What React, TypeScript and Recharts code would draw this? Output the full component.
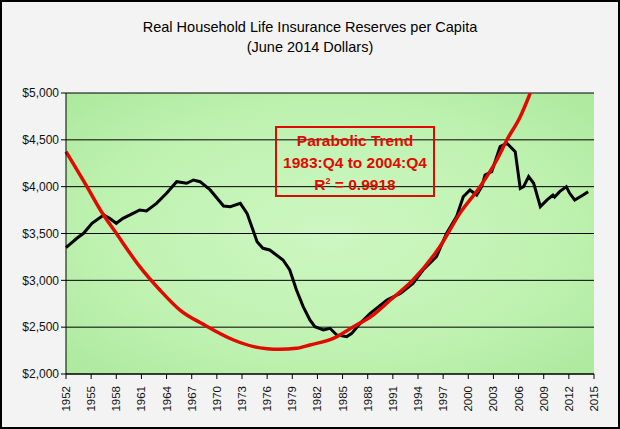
import { CartesianGrid, ComposedChart, Line, XAxis, YAxis } from 'recharts';

// Real household life insurance reserves per capita, June 2014 dollars
const reserveYears = [
  1952.0, 1953.3, 1954.1, 1955.1, 1956.5, 1957.2, 1958.0, 1958.8, 1960.0, 1960.8,
  1961.6, 1962.8, 1964.0, 1965.2, 1966.4, 1967.2, 1968.0, 1969.2, 1970.8, 1971.6,
  1972.8, 1973.6, 1974.8, 1975.5, 1976.3, 1977.9, 1978.7, 1979.5, 1980.3, 1981.1,
  1981.7, 1982.7, 1983.5, 1984.3, 1985.5, 1986.1, 1987.1, 1988.3, 1990.3, 1991.9,
  1993.4, 1994.6, 1996.2, 1997.4, 1998.6, 1999.4, 2000.2, 2001.0, 2001.6, 2002.0,
  2002.8, 2003.8, 2004.6, 2005.6, 2006.2, 2006.6, 2007.2, 2007.8, 2008.6, 2009.4,
  2010.1, 2010.3, 2010.9, 2011.7, 2012.1, 2012.7, 2013.7, 2014.3,
];
const reserveValues = [
  3350, 3449, 3502, 3609, 3698, 3662, 3609, 3662, 3715, 3751,
  3740, 3822, 3929, 4053, 4036, 4071, 4053, 3965, 3794, 3787,
  3822, 3715, 3413, 3342, 3324, 3217, 3110, 2897, 2719, 2577,
  2505, 2470, 2488, 2417, 2399, 2434, 2541, 2648, 2790, 2861,
  2968, 3110, 3252, 3502, 3680, 3893, 3965, 3911, 4000, 4125,
  4160, 4427, 4463, 4374, 3982, 4000, 4107, 4036, 3787, 3858,
  3911, 3890, 3947, 4000, 3929, 3858, 3911, 3947,
];

// Parabolic trend line
const trendYears = [
  1952.0, 1954.5, 1956.1, 1958.0, 1960.8, 1963.2, 1965.6, 1968.4, 1972.0, 1974.4,
  1976.0, 1977.5, 1979.5, 1981.1, 1983.9, 1986.3, 1988.5, 1990.7, 1993.4, 1996.6,
  1999.0, 2001.4, 2003.4, 2004.6, 2006.2, 2007.4,
];
const trendValues = [
  4374, 4000, 3751, 3502, 3146, 2897, 2683, 2530, 2363, 2292,
  2270, 2263, 2274, 2310, 2381, 2505, 2620, 2790, 3003, 3359,
  3715, 4000, 4285, 4498, 4747, 5000,
];

const yearTicks = [
  1952, 1955, 1958, 1961, 1964, 1967, 1970, 1973, 1976, 1979, 1982,
  1985, 1988, 1991, 1994, 1997, 2000, 2003, 2006, 2009, 2012, 2015,
];
const dollarTicks = [2000, 2500, 3000, 3500, 4000, 4500, 5000];

const titleLines = ['Real Household Life Insurance Reserves per Capita', '(June 2014 Dollars)'];
const noteLines = ['Parabolic Trend', '1983:Q4 to 2004:Q4'];
const rSquared = '0.9918';

const reserveData = reserveYears.map((year, i) => ({ year, value: reserveValues[i] }));
const trendData = trendYears.map((year, i) => ({ year, value: trendValues[i] }));

const FONT = '"Liberation Sans", Arial, sans-serif';
const RED = '#e00a00';

const YearTick = ({ x, y, payload }: any) => (
  <text
    transform={`translate(${x},${y + 5}) rotate(-90)`}
    textAnchor="end"
    dominantBaseline="central"
    fontSize={11.5}
    fontFamily={FONT}
    fill="#111"
  >
    {payload.value}
  </text>
);

export default function App() {
  return (
    <div
      style={{
        position: 'absolute',
        left: 0,
        top: 0,
        width: 620,
        height: 429,
        background: '#f3f3f3',
        fontFamily: FONT,
      }}
    >
      <ComposedChart
        width={620}
        height={429}
        margin={{ top: 93, right: 26, bottom: 5, left: 2 }}
        style={{ position: 'absolute', left: 0, top: 0 }}
      >
        <defs>
          <radialGradient id="plotBg" cx="50%" cy="50%" r="70%">
            <stop offset="0%" stopColor="#cdf7c1" />
            <stop offset="60%" stopColor="#bff2b1" />
            <stop offset="100%" stopColor="#ade99e" />
          </radialGradient>
        </defs>
        <CartesianGrid
          vertical={false}
          horizontalValues={dollarTicks}
          stroke="#000"
          strokeOpacity={1}
          fill="url(#plotBg)"
          fillOpacity={1}
        />
        <XAxis
          xAxisId="top"
          orientation="top"
          type="number"
          dataKey="year"
          domain={[1952, 2015]}
          height={0}
          tick={false}
          tickLine={false}
          axisLine={{ stroke: '#7a7a7a' }}
        />
        <YAxis
          yAxisId="right"
          orientation="right"
          type="number"
          domain={[2000, 5000]}
          width={0}
          tick={false}
          tickLine={false}
          axisLine={{ stroke: '#7a7a7a' }}
        />
        <XAxis
          type="number"
          dataKey="year"
          domain={[1952, 2015]}
          ticks={yearTicks}
          interval={0}
          height={50}
          tickSize={5}
          tick={<YearTick />}
          axisLine={{ stroke: '#000' }}
          tickLine={{ stroke: '#000' }}
        />
        <YAxis
          type="number"
          domain={[2000, 5000]}
          ticks={dollarTicks}
          allowDataOverflow
          width={64}
          tickSize={5}
          tickFormatter={(v: number) => '$' + v.toLocaleString('en-US')}
          tick={{ fontSize: 12, fontFamily: FONT, fill: '#111' }}
          axisLine={{ stroke: '#000' }}
          tickLine={{ stroke: '#000' }}
        />
        <Line
          data={reserveData}
          dataKey="value"
          type="linear"
          stroke="#000"
          strokeWidth={3}
          dot={false}
          activeDot={false}
          isAnimationActive={false}
        />
        <Line
          data={trendData}
          dataKey="value"
          type="monotone"
          stroke={RED}
          strokeWidth={3.5}
          dot={false}
          activeDot={false}
          isAnimationActive={false}
        />
      </ComposedChart>

      <div
        style={{
          position: 'absolute',
          left: 0,
          top: 17,
          width: 620,
          textAlign: 'center',
          fontSize: 14.5,
          lineHeight: '20px',
          color: '#000',
        }}
      >
        {titleLines.map((t) => (
          <div key={t}>{t}</div>
        ))}
      </div>

      <div
        style={{
          position: 'absolute',
          left: 275,
          top: 126,
          width: 160,
          height: 71,
          boxSizing: 'border-box',
          border: `2.5px solid ${RED}`,
          color: RED,
          fontWeight: 'bold',
          fontSize: 15.5,
          lineHeight: '22px',
          textAlign: 'center',
          paddingTop: 2,
          whiteSpace: 'nowrap',
        }}
      >
        {noteLines.map((t) => (
          <div key={t}>{t}</div>
        ))}
        <div>
          R<sup style={{ fontSize: 9, verticalAlign: 'top', lineHeight: '14px' }}>2</sup> = {rSquared}
        </div>
      </div>

      <div
        style={{
          position: 'absolute',
          left: 0,
          top: 0,
          width: 620,
          height: 429,
          boxSizing: 'border-box',
          border: '2px solid #000',
          pointerEvents: 'none',
        }}
      />
    </div>
  );
}
